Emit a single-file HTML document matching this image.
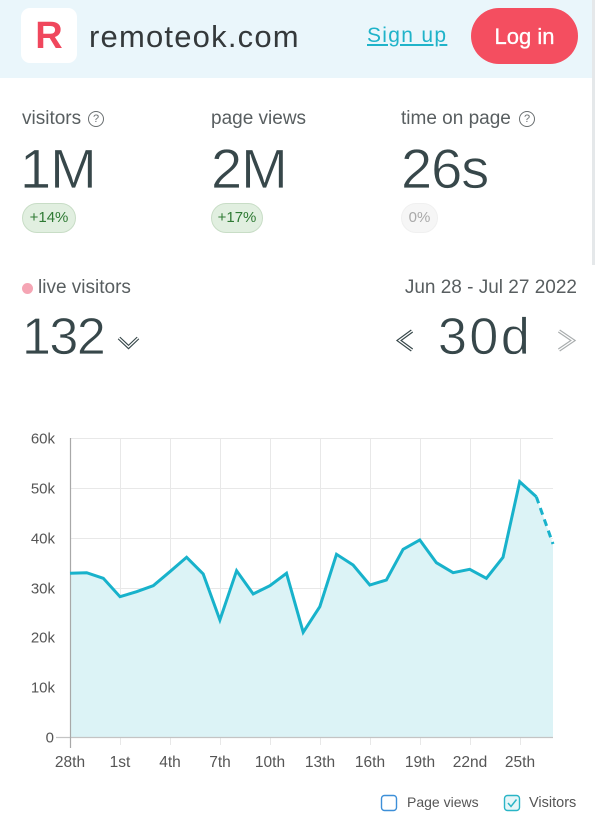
<!DOCTYPE html>
<html>
<head>
<meta charset="utf-8">
<style>
  html, body { margin:0; padding:0; }
  body { width:600px; height:836px; position:relative; background:#fff; overflow:hidden;
         font-family:"Liberation Sans", Arial, sans-serif; }
  .abs { position:absolute; white-space:nowrap; }
  .hdr { position:absolute; left:0; top:0; width:592px; height:78px; background:#eaf6fb; }
  .edge { position:absolute; left:592px; top:0; width:3px; height:265px; background:#e5e8ea; }
  .logo { position:absolute; left:21px; top:8px; width:56px; height:55px; background:#fff; border-radius:9px; }
  .R { position:absolute; left:21px; width:56px; text-align:center; top:16.8px; font-size:38px; line-height:38px; font-weight:bold; color:#f0475d; }
  .site { left:89px; top:20.8px; font-size:31px; line-height:31px; letter-spacing:1.2px; color:#34393b; }
  .signup { left:367px; top:25.2px; font-size:21px; line-height:21px; letter-spacing:1.3px; color:#1fb3c9; text-decoration:underline; text-underline-offset:2px; }
  .login { position:absolute; left:471px; top:8px; width:107px; height:56px; border-radius:28px; background:#f44e60; color:#fff; font-size:22px; line-height:58px; text-align:center; -webkit-text-stroke:0.3px #fff; }
  .lbl { font-size:19px; line-height:19px; color:#585e60; top:108.9px; }
  .q { position:absolute; width:14px; height:14px; border:1.3px solid #6a6f71; border-radius:50%; font-size:11px; line-height:14px; text-align:center; color:#6a6f71; top:111px; }
  .big { font-size:56px; line-height:56px; color:#37474a; top:140.6px; letter-spacing:-1px; -webkit-text-stroke:0.7px #fff; }
  .badge { position:absolute; top:203px; height:28px; border-radius:15px; background:#e1efe0; border:1px solid #c8ddc6; color:#2f7a34; font-size:15px; line-height:28px; text-align:center; }
  .badge0 { background:#f6f6f6; border-color:#f0f0f0; color:#a9a9a9; }
  .dot { position:absolute; left:22px; top:283px; width:11px; height:11px; border-radius:50%; background:#f5a5b4; }
  .live { left:38px; top:277.9px; font-size:19px; line-height:19px; color:#585e60; }
  .date { right:23px; top:277.9px; font-size:19px; line-height:19px; color:#585e60; }
  .n132 { left:22px; top:311px; font-size:52px; line-height:52px; color:#37474a; letter-spacing:-1.5px; -webkit-text-stroke:0.7px #fff; }
  .n30 { left:438px; top:311px; font-size:52px; line-height:52px; color:#37474a; letter-spacing:2.5px; -webkit-text-stroke:0.7px #fff; }
  svg { position:absolute; left:0; top:0; }
</style>
</head>
<body>
<div class="hdr"></div>
<div class="edge"></div>
<div class="logo"></div>
<div class="R">R</div>
<div class="abs site">remoteok.com</div>
<div class="abs signup">Sign up</div>
<div class="login">Log in</div>

<div class="abs lbl" style="left:22px;">visitors</div>
<div class="q" style="left:88px;">?</div>
<div class="abs lbl" style="left:211px;">page views</div>
<div class="abs lbl" style="left:401px;">time on page</div>
<div class="q" style="left:519px;">?</div>

<div class="abs big" style="left:20px;">1M</div>
<div class="abs big" style="left:211px;">2M</div>
<div class="abs big" style="left:401px;">26s</div>

<div class="badge" style="left:22px;width:52px;">+14%</div>
<div class="badge" style="left:211px;width:50px;">+17%</div>
<div class="badge badge0" style="left:401px;width:35px;">0%</div>

<div class="dot"></div>
<div class="abs live">live visitors</div>
<div class="abs date">Jun 28 - Jul 27 2022</div>
<div class="abs n132">132</div>
<div class="abs n30">30d</div>

<svg width="600" height="836" viewBox="0 0 600 836" xmlns="http://www.w3.org/2000/svg">
  <!-- chevrons -->
  <polyline points="119,338 128.5,347 138,338" fill="none" stroke="#37474a" stroke-width="3.6" stroke-linejoin="miter"/>
  <polyline points="119,338 128.5,347 138,338" fill="none" stroke="#fff" stroke-width="1.3"/>
  <polyline points="412,331 399,340.5 412,350" fill="none" stroke="#37474a" stroke-width="3.6"/>
  <polyline points="412,331 399,340.5 412,350" fill="none" stroke="#fff" stroke-width="1.3"/>
  <polyline points="559,331 573,340.5 559,350" fill="none" stroke="#a9adae" stroke-width="3.6"/>
  <polyline points="559,331 573,340.5 559,350" fill="none" stroke="#fff" stroke-width="1.3"/>

  <!-- grid -->
  <g stroke="#e8e8e8" stroke-width="1">
    <line x1="70" y1="438.5" x2="553" y2="438.5"/>
    <line x1="70" y1="488.5" x2="553" y2="488.5"/>
    <line x1="70" y1="538.5" x2="553" y2="538.5"/>
    <line x1="70" y1="588.5" x2="553" y2="588.5"/>
    <line x1="70" y1="637.5" x2="553" y2="637.5"/>
    <line x1="70" y1="687.5" x2="553" y2="687.5"/>
    <line x1="120.5" y1="438" x2="120.5" y2="745"/>
    <line x1="170.5" y1="438" x2="170.5" y2="745"/>
    <line x1="220.5" y1="438" x2="220.5" y2="745"/>
    <line x1="270.5" y1="438" x2="270.5" y2="745"/>
    <line x1="320.5" y1="438" x2="320.5" y2="745"/>
    <line x1="370.5" y1="438" x2="370.5" y2="745"/>
    <line x1="420.5" y1="438" x2="420.5" y2="745"/>
    <line x1="470.5" y1="438" x2="470.5" y2="745"/>
    <line x1="520.5" y1="438" x2="520.5" y2="745"/>
  </g>

  <!-- area -->
  <polygon fill="#dcf3f6" points="70,737 70,573.3 86.7,572.7 103.3,578.3 120,596.7 136.6,591.7 153.3,585.7 169.9,571.7 186.6,557.3 203.2,574 219.9,620 236.6,570.7 253.2,594 269.9,585.7 286.5,573.3 303.2,632.3 319.8,606.7 336.5,554.3 353.1,565 369.8,585 386.4,580 403.1,549.3 419.8,540 436.4,562.7 453.1,572.7 469.7,569.3 486.4,578.3 503,557.3 519.7,481.7 536.3,496.7 553,544 553,737"/>

  <!-- axes -->
  <line x1="56" y1="737.5" x2="553" y2="737.5" stroke="#c4c4c4" stroke-width="1.2"/>
  <line x1="70.5" y1="438" x2="70.5" y2="748" stroke="#a8a8a8" stroke-width="1.2"/>

  <!-- line -->
  <polyline fill="none" stroke="#18b2cb" stroke-width="3" stroke-linejoin="miter" points="70,573.3 86.7,572.7 103.3,578.3 120,596.7 136.6,591.7 153.3,585.7 169.9,571.7 186.6,557.3 203.2,574 219.9,620 236.6,570.7 253.2,594 269.9,585.7 286.5,573.3 303.2,632.3 319.8,606.7 336.5,554.3 353.1,565 369.8,585 386.4,580 403.1,549.3 419.8,540 436.4,562.7 453.1,572.7 469.7,569.3 486.4,578.3 503,557.3 519.7,481.7 536.3,496.7"/>
  <line x1="536.3" y1="496.7" x2="553" y2="544" stroke="#18b2cb" stroke-width="3" stroke-dasharray="7 5"/>

  <!-- y labels -->
  <g font-family="Liberation Sans, Arial, sans-serif" font-size="15" fill="#555" text-anchor="end">
    <text x="55" y="443.5">60k</text>
    <text x="55" y="493.5">50k</text>
    <text x="55" y="543.5">40k</text>
    <text x="55" y="593.5">30k</text>
    <text x="55" y="642.5">20k</text>
    <text x="55" y="692.5">10k</text>
    <text x="54" y="742.5">0</text>
  </g>
  <!-- x labels -->
  <g font-family="Liberation Sans, Arial, sans-serif" font-size="15.5" fill="#555" text-anchor="middle">
    <text x="70" y="767">28th</text>
    <text x="120" y="767">1st</text>
    <text x="170" y="767">4th</text>
    <text x="220" y="767">7th</text>
    <text x="270" y="767">10th</text>
    <text x="320" y="767">13th</text>
    <text x="370" y="767">16th</text>
    <text x="420" y="767">19th</text>
    <text x="470" y="767">22nd</text>
    <text x="520" y="767">25th</text>
  </g>

  <!-- legend -->
  <rect x="381.5" y="795.5" width="15" height="15" rx="3" fill="#fff" stroke="#3d8fd8" stroke-width="1.4"/>
  <text x="407" y="807" font-family="Liberation Sans, Arial, sans-serif" font-size="14" fill="#555">Page views</text>
  <rect x="504.5" y="795.5" width="15" height="15" rx="3" fill="#e6f6f8" stroke="#2ab5c6" stroke-width="1.4"/>
  <polyline points="508,803 511,806.5 516.5,799.5" fill="none" stroke="#2ab5c6" stroke-width="1.5"/>
  <text x="529" y="807" font-family="Liberation Sans, Arial, sans-serif" font-size="14.5" fill="#555">Visitors</text>
</svg>
</body>
</html>
